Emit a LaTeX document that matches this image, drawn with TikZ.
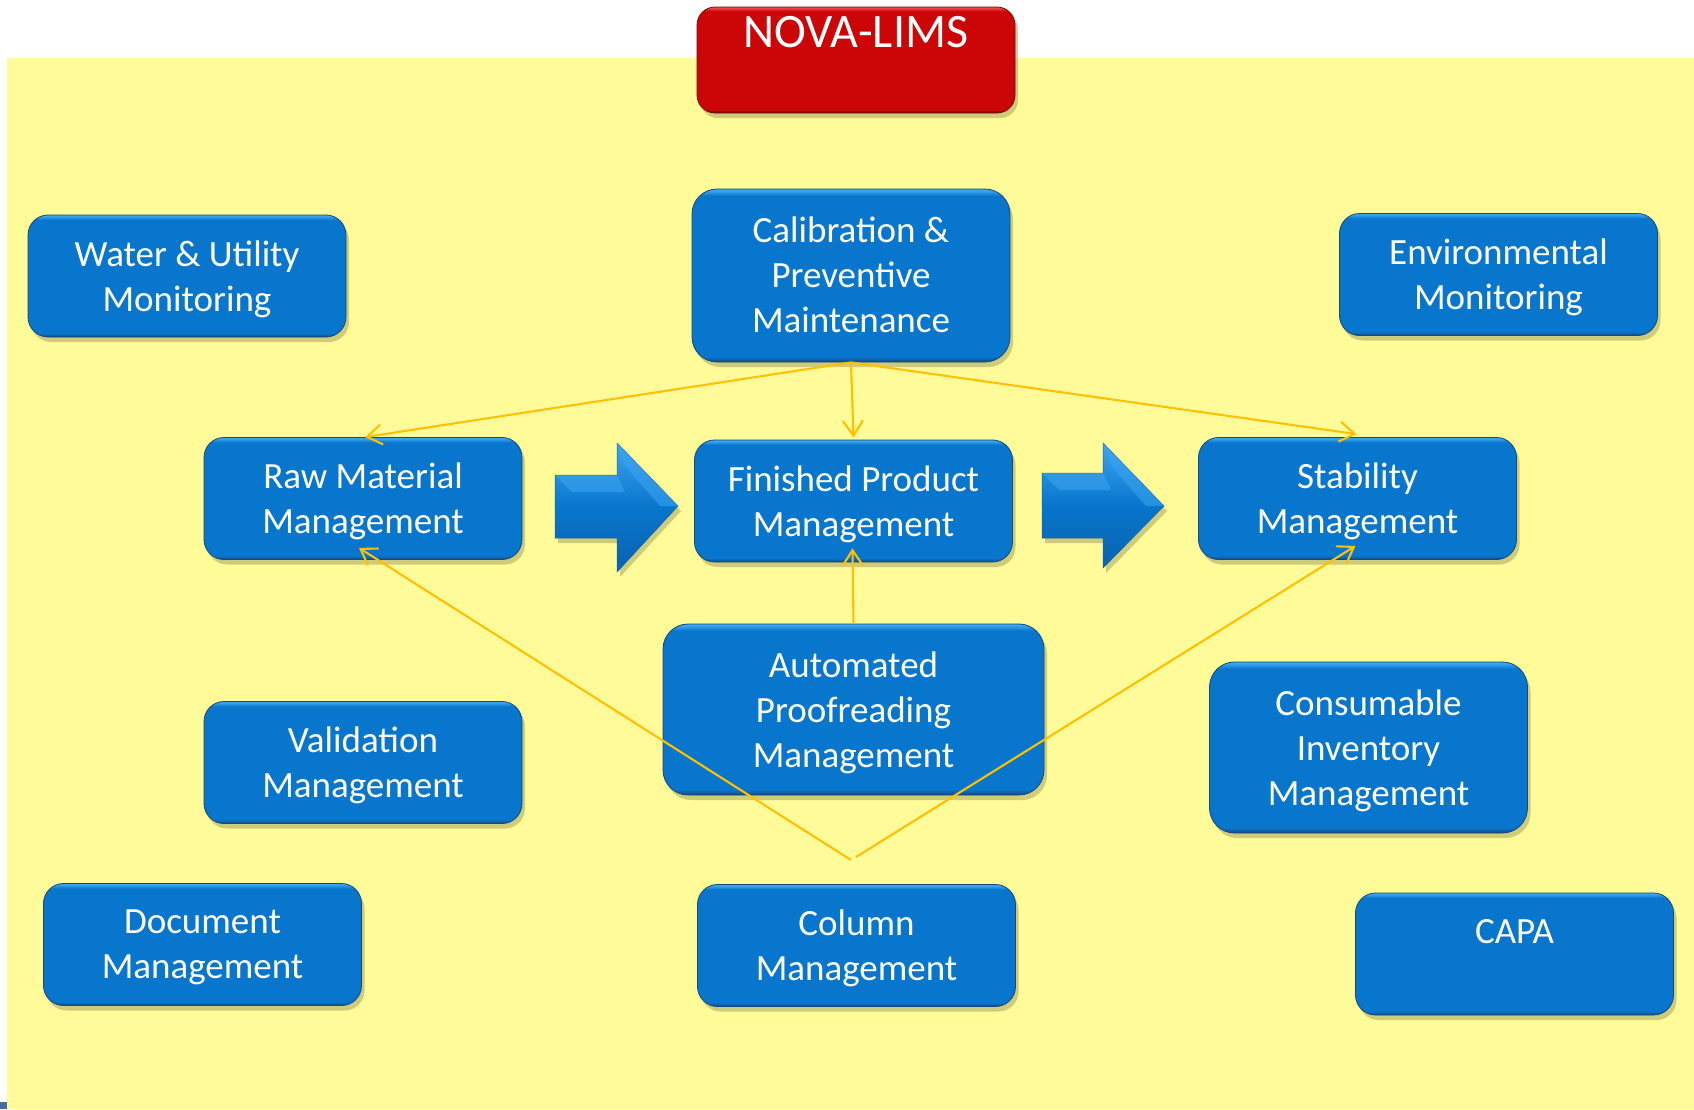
\documentclass[tikz,border=0pt]{standalone}
\usepackage{fontspec}
\setmainfont{Carlito}
\usetikzlibrary{shadows,arrows.meta}
\definecolor{bgyel}{RGB}{255,251,153}
\definecolor{bmain}{RGB}{7,118,204}
\definecolor{blight}{RGB}{60,165,240}
\definecolor{bdark}{RGB}{22,72,125}
\definecolor{bmid}{RGB}{12,98,175}
\definecolor{redmain}{RGB}{204,6,6}
\definecolor{redlight}{RGB}{240,70,70}
\definecolor{reddark}{RGB}{110,10,10}
\definecolor{connorange}{RGB}{255,192,0}
\definecolor{shadowcol}{RGB}{150,145,80}
\definecolor{cornerblue}{RGB}{70,110,160}
\pgfdeclareverticalshading{bluebox}{100bp}{color(0bp)=(bdark); color(25bp)=(bdark); color(26.5bp)=(bmain); color(73bp)=(bmain); color(74.6bp)=(blight); color(100bp)=(blight)}
\pgfdeclareverticalshading{redbox}{100bp}{color(0bp)=(reddark); color(25bp)=(reddark); color(26.5bp)=(redmain); color(73bp)=(redmain); color(74.6bp)=(redlight); color(100bp)=(redlight)}
\pgfdeclareverticalshading{arrowshade}{100bp}{color(0bp)=(bmid); color(25bp)=(bmid); color(50bp)=(bmain); color(75bp)=(blight); color(100bp)=(blight)}
\tikzset{
  boxshadow/.style={drop shadow={shadow xshift=3pt, shadow yshift=-5pt, opacity=0.45, fill=shadowcol}},
  boxtext/.style={text=white, align=center, font=\fontsize{37}{45}\selectfont, inner sep=0pt},
  bluebox/.style={rounded corners=20pt, shading=bluebox, draw=bdark, line width=0.8pt, inner sep=0pt, boxshadow},
  tb/.style={label={[boxtext, yshift=-3pt]center:{#1}}},
  tbc/.style={label={[boxtext, yshift=0.5pt]center:{#1}}},
  wide/.style={minimum width=318pt, minimum height=122pt},
  tall/.style={minimum width=318pt, minimum height=172pt, rounded corners=25pt},
  connector/.style={draw=connorange, line width=2.1pt, -{Straight Barb[length=15pt,width=20pt]}},
  blockarrow/.style={shading=arrowshade, draw=bmid, line width=0.5pt, boxshadow},
  bevel/.style={fill=blight, opacity=0.55},
}
\begin{document}
\begin{tikzpicture}[x=1pt,y=-1pt]
\useasboundingbox (0,0) rectangle (1694,1109);
% background
\fill[bgyel] (7,58) rectangle (1694,1109);
\fill[cornerblue] (0,1102) rectangle (7,1109);

% title
\node[rounded corners=18pt, shading=redbox, draw=reddark, line width=0.8pt, boxshadow,
      minimum width=318pt, minimum height=106pt, inner sep=0pt] (title) at (856,60) {};
\node[anchor=base, text=white, font=\fontsize{48}{52}\selectfont, inner sep=0pt] (titlelabel) at (856,47) {NOVA-LIMS};

% boxes
\node[bluebox, wide, tb={Water \& Utility\\Monitoring}] (water) at (187,276) {};
\node[bluebox, tall, minimum height=173pt, tbc={Calibration \&\\Preventive\\Maintenance}] (cal) at (851,275.5) {};
\node[bluebox, wide, tb={Environmental\\Monitoring}] (env) at (1498.5,274.5) {};
\node[bluebox, wide, tb={Raw Material\\Management}] (raw) at (363,498.5) {};
\node[bluebox, wide, tb={Finished Product\\Management}] (fin) at (853.5,501) {};
\node[bluebox, wide, tb={Stability\\Management}] (stab) at (1357.5,498.5) {};
\node[bluebox, tall, minimum width=381pt, minimum height=171pt, tb={Automated\\Proofreading\\Management}] (auto) at (853.5,709.5) {};
\node[bluebox, wide, tb={Validation\\Management}] (valid) at (363,762.5) {};
\node[bluebox, tall, minimum height=171pt, tb={Consumable\\Inventory\\Management}] (cons) at (1368.5,747.5) {};
\node[bluebox, wide, tb={Document\\Management}] (doc) at (202.5,944.5) {};
\node[bluebox, wide, tb={Column\\Management}] (col) at (856.5,945.5) {};
\node[bluebox, wide] (capa) at (1514.5,954) {};
\node[boxtext, anchor=base] (capalabel) at (1514.5,943) {CAPA};

% block arrows
\path[blockarrow] (555,475) -- (617,475) -- (617,443) -- (678,506) -- (617,572) -- (617,538) -- (555,538) -- cycle;
\path[bevel] (555,475) -- (617,475) -- (625,492) -- (572,492) -- cycle;
\path[bevel] (617,443) -- (678,506) -- (660,506) -- (625,466) -- cycle;
\path[blockarrow] (1042,473) -- (1103,473) -- (1103,443) -- (1164,506) -- (1103,568) -- (1103,538) -- (1042,538) -- cycle;
\path[bevel] (1042,473) -- (1103,473) -- (1111,490) -- (1059,490) -- cycle;
\path[bevel] (1103,443) -- (1164,506) -- (1146,506) -- (1111,466) -- cycle;

% connectors
\draw[connector] (cal.south) -- ([xshift=2pt]raw.north);
\draw[connector] (cal.south) -- ([yshift=2pt]fin.north);
\draw[connector] (cal.south) -- ([xshift=-1pt,yshift=3pt]stab.north);
\draw[connector] (auto.north) -- ([xshift=-1pt,yshift=14pt]fin.south);
\coordinate (apexL) at (851,860);
\coordinate (apexR) at (856,857);
\draw[connector] (apexL) -- ([xshift=-4pt,yshift=12pt]raw.south);
\draw[connector] (apexR) -- ([xshift=-2pt,yshift=14pt]stab.south);
\end{tikzpicture}
\end{document}
